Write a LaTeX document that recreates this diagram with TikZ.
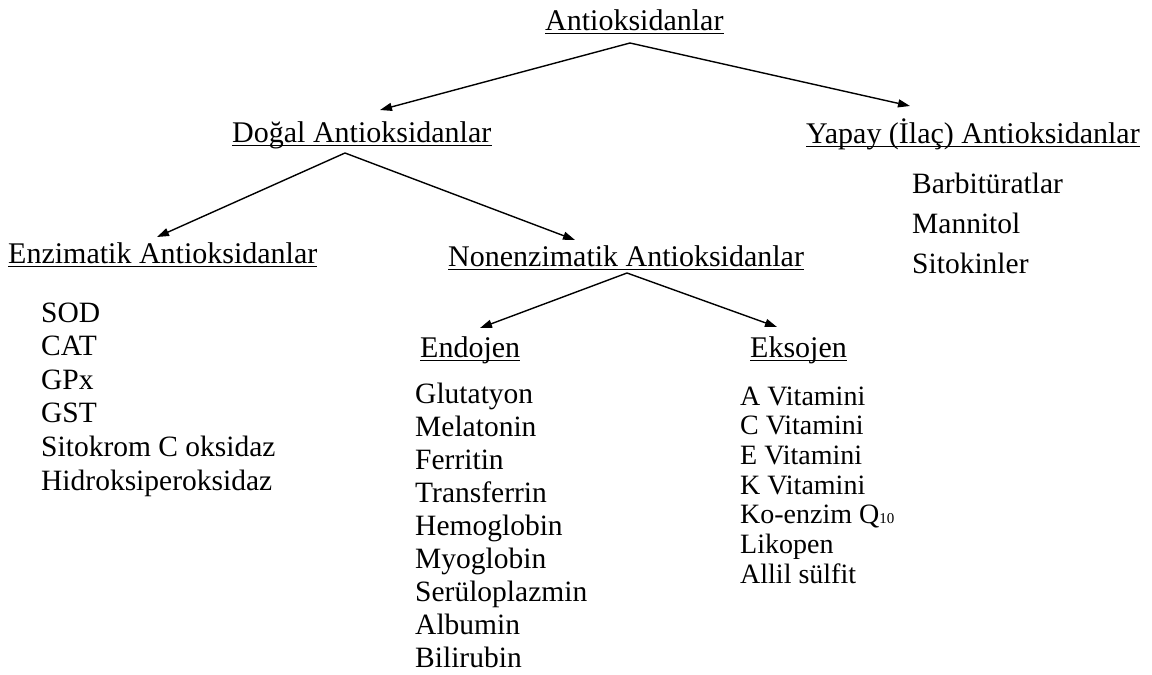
\documentclass[tikz,border=0pt]{standalone}
\usepackage{fontspec}
\setmainfont{Liberation Serif}
\usetikzlibrary{arrows.meta}
\newcommand\ulinenode[1]{\draw[uline] ([yshift=-3.5pt]#1.base west) -- ([yshift=-3.5pt]#1.base east);}
\begin{document}
\begin{tikzpicture}[x=1pt,y=-1pt,
  head/.style={anchor=base west,inner sep=0pt,font=\fontsize{30}{36}\selectfont},
  item/.style={anchor=base west,inner sep=0pt,font=\fontsize{29.5}{36}\selectfont},
  itemb/.style={anchor=base west,inner sep=0pt,font=\fontsize{28}{34}\selectfont},
  arr/.style={line width=1.4pt,-{Triangle[length=12pt,width=8pt]}},
  uline/.style={line width=1.2pt}]
\useasboundingbox (0,0) rectangle (1152,675);

% headings
\node[head] (root) at (545,30) {Antioksidanlar};
\node[head] (dogal) at (232,142) {Doğal Antioksidanlar};
\node[head] (yapay) at (806,143) {Yapay (İlaç) Antioksidanlar};
\node[head] (enz) at (8,263) {Enzimatik Antioksidanlar};
\node[head] (non) at (448,266) {Nonenzimatik Antioksidanlar};
\node[head] (endo) at (420,357) {Endojen};
\node[head] (ekso) at (750,357) {Eksojen};

\foreach \n in {root,dogal,yapay,enz,non,endo,ekso}{\ulinenode{\n}}

% connector end points
\coordinate (rootS) at (630,43);
\coordinate (dogalT) at (380,110);
\coordinate (yapayT) at (910,106);
\coordinate (dogalS) at (345,153);
\coordinate (enzT) at (157,237);
\coordinate (nonT) at (575,240);
\coordinate (nonS) at (627,273);
\coordinate (endoT) at (480,328);
\coordinate (eksoT) at (777,327);

\draw[arr] (rootS) -- (dogalT);
\draw[arr] (rootS) -- (yapayT);
\draw[arr] (dogalS) -- (enzT);
\draw[arr] (dogalS) -- (nonT);
\draw[arr] (nonS) -- (endoT);
\draw[arr] (nonS) -- (eksoT);

% Yapay items
\foreach \t [count=\i] in {Barbitüratlar,Mannitol,Sitokinler}
  \node[item] (ya\i) at (912,{193+40*(\i-1)}) {\t};

% Enzimatik items
\foreach \t [count=\i] in {SOD,CAT,GPx,GST,Sitokrom C oksidaz,Hidroksiperoksidaz}
  \node[item] (en\i) at (41,{322+33.6*(\i-1)}) {\t};

% Endojen items
\foreach \t [count=\i] in {Glutatyon,Melatonin,Ferritin,Transferrin,Hemoglobin,Myoglobin,Serüloplazmin,Albumin,Bilirubin}
  \node[item] (eo\i) at (415,{403+33*(\i-1)}) {\t};

% Eksojen items
\foreach \t [count=\i] in {A Vitamini,C Vitamini,E Vitamini,K Vitamini,{Ko-enzim Q{\fontsize{15}{15}\selectfont 10}},Likopen,Allil sülfit}
  \node[itemb] (ek\i) at (740,{405+29.7*(\i-1)}) {\t};
\end{tikzpicture}
\end{document}
